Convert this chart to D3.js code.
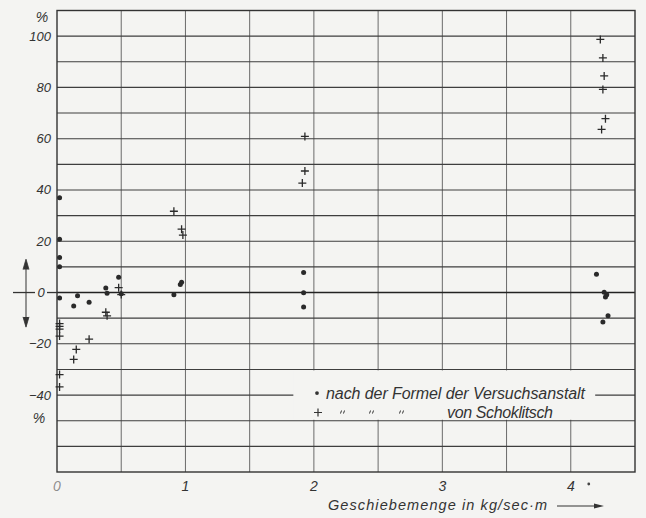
<!DOCTYPE html>
<html>
<head>
<meta charset="utf-8">
<script src="https://cdn.jsdelivr.net/npm/d3@7"></script>
<style>
  body { margin: 0; background: #f4f4f2; }
  svg { display: block; }
  text { font-family: "Liberation Sans", "DejaVu Sans", sans-serif; font-style: italic; fill: #333; }
</style>
</head>
<body>
<div class="svgcontainer"></div>
<script>
// Abweichung in % über Geschiebemenge (kg/sec·m)
const versuchsanstaltX = [0.02, 0.02, 0.02, 0.02, 0.02, 0.16, 0.13, 0.25, 0.38, 0.39, 0.48, 0.50,
  0.91, 0.96, 0.97, 1.92, 1.92, 1.92, 4.20, 4.26, 4.27, 4.28, 4.29, 4.25]
const versuchsanstaltY = [37, 20.8, 13.7, 10.1, -2.1, -1.3, -5.3, -3.8, 1.8, -0.3, 6, -0.5,
  -0.9, 3.1, 4, 7.8, -0.1, -5.6, 7.1, 0.1, -1.7, -0.9, -9.1, -11.5]

const schoklitschX = [0.91, 0.97, 0.98, 0.48, 0.50, 0.38, 0.39, 0.02, 0.02, 0.02, 0.02, 0.25, 0.15, 0.13,
  0.02, 0.02, 1.93, 1.93, 1.91, 4.23, 4.25, 4.26, 4.25, 4.27, 4.24]
const schoklitschY = [31.7, 24.7, 22.4, 1.9, -0.8, -7.7, -9.1, -12.1, -13.2, -14.3, -17, -18.2, -22.2, -26.1,
  -32, -36.8, 60.9, 47.4, 42.7, 98.7, 91.5, 84.5, 79.2, 67.8, 63.6]

const xTicks = [0, 1, 2, 3, 4]
const yTickLabels = [100, 80, 60, 40, 20, -20, -40]
const legendLines = ["nach der Formel der Versuchsanstalt", "von Schoklitsch"]

const width = 646, height = 518

const svg = d3.select(".svgcontainer")
  .append("svg")
  .attr("width", width)
  .attr("height", height)

let x = d3.scaleLinear().domain([0, 4.5]).range([57, 635])
let y = d3.scaleLinear().domain([-70, 110]).range([472, 10.5])

// grid
const grid = svg.append("g")
grid.selectAll(".vgrid")
  .data(d3.range(0.5, 4.5, 0.5))
  .join("line")
  .attr("x1", d => x(d)).attr("x2", d => x(d))
  .attr("y1", y(110)).attr("y2", y(-70))
  .attr("stroke", "#6a6a6a").attr("stroke-width", 1)

grid.selectAll(".hgrid")
  .data(d3.range(-60, 110, 10))
  .join("line")
  .attr("x1", x(0)).attr("x2", x(4.5))
  .attr("y1", d => y(d)).attr("y2", d => y(d))
  .attr("stroke", d => d === 0 ? "#222" : "#3e3e3e")
  .attr("stroke-width", d => d === 0 ? 1.6 : 1.1)

// blank space for the legend
svg.append("rect")
  .attr("x", x(1.84)).attr("width", x(4.19) - x(1.84))
  .attr("y", y(-30) + 1).attr("height", y(-50) - y(-30) - 2)
  .attr("fill", "#f4f4f2")

// frame
svg.append("rect")
  .attr("x", x(0)).attr("y", y(110))
  .attr("width", x(4.5) - x(0)).attr("height", y(-70) - y(110))
  .attr("fill", "none").attr("stroke", "#333").attr("stroke-width", 1.4)

// y labels
svg.selectAll(".ylab")
  .data(yTickLabels)
  .join("text")
  .attr("x", 51).attr("y", d => y(d) + 4.5)
  .attr("text-anchor", "end")
  .attr("font-size", 13)
  .text(d => d < 0 ? "\u2212" + Math.abs(d) : d)

svg.append("text").attr("x", 42).attr("y", 22).attr("text-anchor", "middle")
  .attr("font-size", 14).text("%")
svg.append("text").attr("x", 39).attr("y", y(-49) + 5).attr("text-anchor", "middle")
  .attr("font-size", 14).text("%")

// zero marker with double arrow
svg.append("line").attr("x1", 13).attr("x2", 35).attr("y1", y(0)).attr("y2", y(0))
  .attr("stroke", "#333").attr("stroke-width", 1.3)
svg.append("line").attr("x1", 47).attr("x2", x(0)).attr("y1", y(0)).attr("y2", y(0))
  .attr("stroke", "#333").attr("stroke-width", 1.3)
svg.append("text").attr("x", 41).attr("y", y(0) + 4.5).attr("text-anchor", "middle")
  .attr("font-size", 13).text("0")
svg.append("line").attr("x1", 26).attr("x2", 26).attr("y1", y(12)).attr("y2", y(-12.5))
  .attr("stroke", "#333").attr("stroke-width", 1)
svg.append("path").attr("d", `M23,${y(9)} L26,${y(13)} L29,${y(9)}`)
  .attr("fill", "#333").attr("stroke", "#333").attr("stroke-width", 0.8)
svg.append("path").attr("d", `M23,${y(-9.5)} L26,${y(-13.5)} L29,${y(-9.5)}`)
  .attr("fill", "#333").attr("stroke", "#333").attr("stroke-width", 0.8)

// x labels
svg.selectAll(".xlab")
  .data(xTicks)
  .join("text")
  .attr("x", d => x(d)).attr("y", 491)
  .attr("text-anchor", "middle")
  .attr("font-size", 14)
  .attr("fill-opacity", d => d === 0 ? 0.55 : 1)
  .text(d => d)
svg.append("circle").attr("cx", x(4.14)).attr("cy", 484).attr("r", 1.4).attr("fill", "#444")

svg.append("text").attr("x", 328).attr("y", 510)
  .attr("font-size", 14.5).attr("textLength", 219)
  .text("Geschiebemenge in kg/sec\u00b7m")
svg.append("line").attr("x1", 557).attr("x2", 600).attr("y1", 506).attr("y2", 506)
  .attr("stroke", "#333").attr("stroke-width", 1.2)
svg.append("path").attr("d", "M594,503.5 L604,506 L594,508.5 Z").attr("fill", "#333")

// data: dots
let dots = d3.zip(versuchsanstaltX, versuchsanstaltY)
svg.selectAll(".dot")
  .data(dots)
  .join("circle")
  .attr("cx", d => x(d[0])).attr("cy", d => y(d[1]))
  .attr("r", 2.5).attr("fill", "#2a2a2a")

// data: crosses
let crosses = d3.zip(schoklitschX, schoklitschY)
svg.selectAll(".cross")
  .data(crosses)
  .join("path")
  .attr("transform", d => `translate(${x(d[0])},${y(d[1])})`)
  .attr("d", "M-4,0 H4 M0,-4 V4")
  .attr("stroke", "#2a2a2a").attr("stroke-width", 1.3).attr("fill", "none")

// legend
const lg = svg.append("g")
lg.append("circle").attr("cx", 317).attr("cy", y(-39.2)).attr("r", 1.9).attr("fill", "#333")
lg.append("text").attr("x", 326).attr("y", y(-39.2) + 5.5)
  .attr("font-size", 16).attr("textLength", 259)
  .text(legendLines[0])
lg.append("path")
  .attr("transform", `translate(318,${y(-46.8)})`)
  .attr("d", "M-4,0 H4 M0,-4 V4")
  .attr("stroke", "#333").attr("stroke-width", 1.2)
// ditto marks
lg.selectAll(".ditto")
  .data([343, 372, 402])
  .join("path")
  .attr("transform", d => `translate(${d},${y(-46.8)})`)
  .attr("d", "M-1.5,-2 L-2.5,1 M1.5,-2 L0.5,1")
  .attr("stroke", "#333").attr("stroke-width", 1)
lg.append("text").attr("x", 447).attr("y", y(-46.8) + 5.5)
  .attr("font-size", 16).attr("textLength", 106)
  .text(legendLines[1])
</script>
</body>
</html>
